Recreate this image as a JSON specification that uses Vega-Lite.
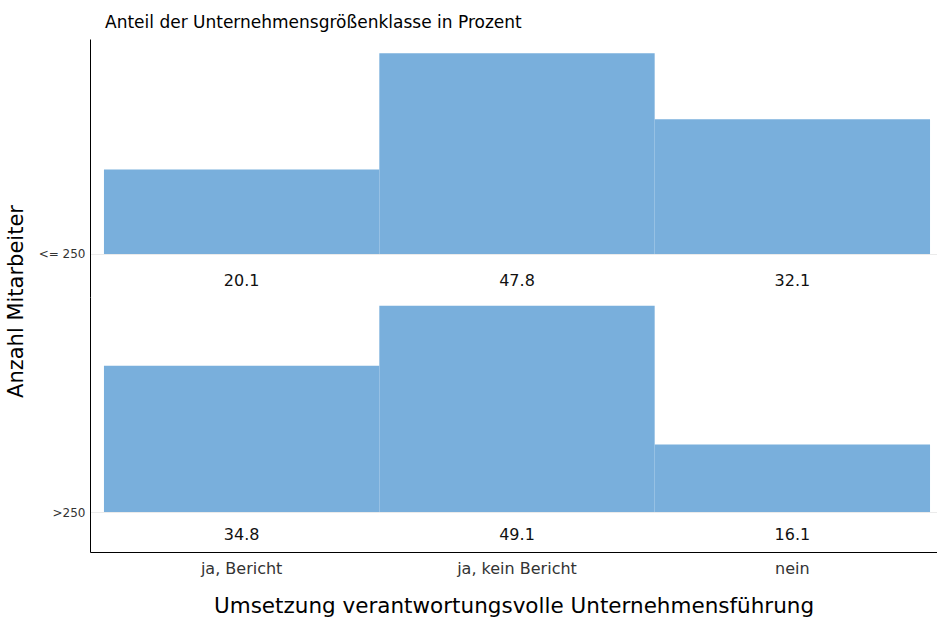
{
  "$schema": "https://vega.github.io/schema/vega-lite/v6.json",
  "padding": {"left": 5, "top": 14, "right": 0, "bottom": 5},
  "datasets": {
    "anteile": [
      {"groesse": "<= 250", "umsetzung": "ja, Bericht", "anteil": 20.1},
      {"groesse": "<= 250", "umsetzung": "ja, kein Bericht", "anteil": 47.8},
      {"groesse": "<= 250", "umsetzung": "nein", "anteil": 32.1},
      {"groesse": ">250", "umsetzung": "ja, Bericht", "anteil": 34.8},
      {"groesse": ">250", "umsetzung": "ja, kein Bericht", "anteil": 49.1},
      {"groesse": ">250", "umsetzung": "nein", "anteil": 16.1}
    ]
  },
  "data": {"name": "anteile"},
  "title": {
    "text": "Anteil der Unternehmensgrößenklasse in Prozent",
    "anchor": "start",
    "frame": "group",
    "fontSize": 17,
    "fontWeight": "normal",
    "color": "#000",
    "offset": 7,
    "dx": 15
  },
  "spacing": 0,
  "bounds": "flush",
  "vconcat": [
    {
      "width": 847,
      "height": 258,
      "transform": [{"filter": "datum.groesse === '<= 250'"}],
      "layer": [
        {
          "mark": {"type": "bar", "color": "#79afdc"},
          "encoding": {
            "x": {
              "field": "umsetzung",
              "type": "nominal",
              "sort": ["ja, Bericht", "ja, kein Bericht", "nein"],
              "scale": {"paddingInner": 0, "paddingOuter": 0.038, "align": 0.667},
              "axis": null
            },
            "y": {
              "field": "anteil",
              "type": "quantitative",
              "scale": {"domain": [-10.24, 51.19], "nice": false, "zero": false},
              "axis": {
                "title": "Anzahl Mitarbeiter",
                "titleFontSize": 21,
                "titleFontWeight": "normal",
                "titleColor": "#000",
                "titleY": 262,
                "titlePadding": 12,
                "labelExpr": "'<= 250'",
                "labelFontSize": 12,
                "labelColor": "#333",
                "labelPadding": 5,
                "ticks": false,
                "domain": true,
                "domainColor": "#000",
                "grid": true,
                "gridColor": "#ebebeb",
                "values": [0]
              }
            },
            "y2": {"datum": 0}
          }
        },
        {
          "mark": {"type": "text", "dy": 27, "fontSize": 16, "color": "#111", "baseline": "middle"},
          "encoding": {
            "x": {"field": "umsetzung", "type": "nominal", "sort": ["ja, Bericht", "ja, kein Bericht", "nein"]},
            "y": {"datum": 0},
            "text": {"field": "anteil", "type": "quantitative", "format": ".1f"}
          }
        }
      ]
    },
    {
      "width": 847,
      "height": 255,
      "transform": [{"filter": "datum.groesse === '>250'"}],
      "layer": [
        {
          "mark": {"type": "bar", "color": "#79afdc"},
          "encoding": {
            "x": {
              "field": "umsetzung",
              "type": "nominal",
              "sort": ["ja, Bericht", "ja, kein Bericht", "nein"],
              "scale": {"paddingInner": 0, "paddingOuter": 0.038, "align": 0.667},
              "title": "Umsetzung verantwortungsvolle Unternehmensführung",
              "axis": {
                "labelAngle": 0,
                "labelFontSize": 16,
                "labelColor": "#333",
                "labelPadding": 8,
                "ticks": false,
                "domainColor": "#000",
                "titleFontSize": 21.5,
                "titleFontWeight": "normal",
                "titleColor": "#000",
                "titlePadding": 19
              }
            },
            "y": {
              "field": "anteil",
              "type": "quantitative",
              "scale": {"domain": [-9.52, 51.19], "nice": false, "zero": false},
              "axis": {
                "title": null,
                "labelExpr": "'>250'",
                "labelFontSize": 12,
                "labelColor": "#333",
                "labelPadding": 5,
                "ticks": false,
                "domain": true,
                "domainColor": "#000",
                "grid": true,
                "gridColor": "#ebebeb",
                "values": [0]
              }
            },
            "y2": {"datum": 0}
          }
        },
        {
          "mark": {"type": "text", "dy": 23, "fontSize": 16, "color": "#111", "baseline": "middle"},
          "encoding": {
            "x": {"field": "umsetzung", "type": "nominal", "sort": ["ja, Bericht", "ja, kein Bericht", "nein"]},
            "y": {"datum": 0},
            "text": {"field": "anteil", "type": "quantitative", "format": ".1f"}
          }
        }
      ]
    }
  ],
  "config": {
    "view": {"stroke": null},
    "font": "DejaVu Sans"
  }
}
